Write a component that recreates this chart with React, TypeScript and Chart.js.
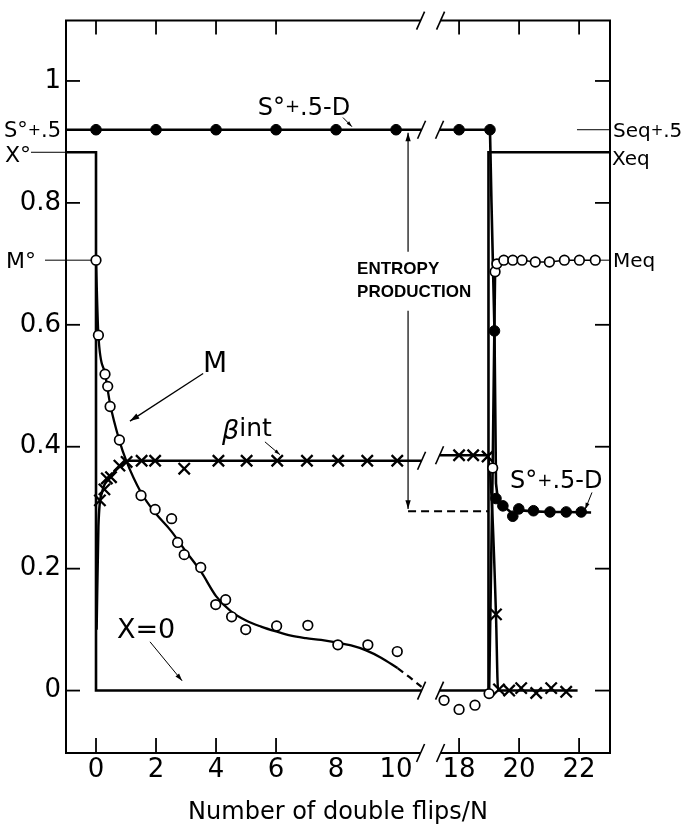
import React, { useEffect, useRef } from "react";
import { Chart, registerables } from "chart.js";

Chart.register(...registerables);

// ---- broken x axis: values right of the break are shifted left ----
const BREAK_SHIFT = 5.9;
const BREAK_FROM = 10.85; // last real x drawn before the break
const BREAK_TO = 17.35; // first real x drawn after the break
const cx = (v: number) => (v > 14 ? v - BREAK_SHIFT : v);
const GAP_X = 11.15; // continuous position used for null gap points

const X_MIN = -1;
const X_MAX = 23.03;
const Y_MIN = -0.1024;
const Y_MAX = 1.099;

const X_TICKS = [0, 2, 4, 6, 8, 10, 18, 20, 22];
const X_MARK_TICKS = [0, 2, 4, 6, 18, 20, 22];
const Y_TICKS = [0, 0.2, 0.4, 0.6, 0.8, 1];
const Y_TICK_LABELS = ["0", "0.2", "0.4", "0.6", "0.8", "1"];

// ---- M (open circles) ----
const M_PTS_X = [0, 0.08, 0.3, 0.39, 0.47, 0.78, 1.5, 1.97, 2.52, 2.72, 2.94, 3.49, 3.99, 4.32, 4.52, 4.99, 6.02, 7.06, 8.06, 9.06, 10.04, 17.5, 18.0, 18.53, 19.0, 19.12, 19.2, 19.26, 19.49, 19.79, 20.1, 20.54, 21.01, 21.51, 22.01, 22.54];
const M_PTS_Y = [0.706, 0.583, 0.519, 0.499, 0.466, 0.411, 0.32, 0.297, 0.282, 0.243, 0.223, 0.202, 0.141, 0.149, 0.121, 0.1, 0.106, 0.107, 0.075, 0.075, 0.064, -0.016, -0.031, -0.024, -0.005, 0.365, 0.687, 0.7, 0.706, 0.706, 0.706, 0.703, 0.703, 0.706, 0.706, 0.706];
// smooth fitted M curve
const M_FIT_X = [0, 0.08, 0.3, 0.47, 0.78, 1.0, 1.5, 2.0, 2.5, 3.0, 3.5, 4.0, 4.5, 5.0, 5.5, 6.0, 6.5, 7.0, 7.5, 8.0, 8.5, 9.0, 9.5, 10.05];
const M_FIT_Y = [0.706, 0.583, 0.52, 0.47, 0.41, 0.378, 0.325, 0.29, 0.262, 0.228, 0.195, 0.155, 0.13, 0.115, 0.105, 0.097, 0.09, 0.086, 0.083, 0.079, 0.074, 0.066, 0.054, 0.037];
const M_DASH_X = [10.05, 10.45, 10.85];
const M_DASH_Y = [0.037, 0.022, 0.006];

// ---- beta_int (crosses) ----
const BETA_MARK_X = [0.13, 0.28, 0.36, 0.5, 0.78, 1.02, 1.52, 1.97, 2.94, 4.08, 5.02, 6.04, 7.03, 8.07, 9.04, 10.04, 18.0, 18.47, 18.95, 19.23, 19.33, 19.67, 20.07, 20.57, 21.07, 21.57];
const BETA_MARK_Y = [0.312, 0.33, 0.348, 0.35, 0.369, 0.375, 0.377, 0.377, 0.364, 0.377, 0.377, 0.377, 0.377, 0.377, 0.377, 0.377, 0.386, 0.386, 0.384, 0.125, 0.002, 0.0, 0.004, -0.004, 0.004, -0.002];
const BETA_LINE_X = [0.02, 0.08, 0.2, 0.5, 0.8, 1.1, 10.85, null, 17.35, 18.95, 19.1, 19.23, 19.3, 21.95];
const BETA_LINE_Y = [0.1, 0.27, 0.325, 0.352, 0.368, 0.377, 0.377, null, 0.386, 0.386, 0.3, 0.125, 0.0, 0.0];

// ---- S°+.5-D (filled circles) ----
const SD_MARK_X = [0, 2, 4, 6, 8, 10, 18, 19.03, 19.18, 19.23, 19.46, 19.79, 19.99, 20.48, 21.03, 21.57, 22.07];
const SD_MARK_Y = [0.92, 0.92, 0.92, 0.92, 0.92, 0.92, 0.92, 0.92, 0.59, 0.315, 0.303, 0.286, 0.298, 0.295, 0.293, 0.293, 0.293];
const SD_LINE_X = [-1, 10.85, null, 17.35, 19.03, 19.08, 19.18, 19.23, 19.3, 19.46, 19.79, 19.99, 20.48, 21.03, 21.57, 22.4];
const SD_LINE_Y = [0.92, 0.92, null, 0.92, 0.92, 0.8, 0.59, 0.34, 0.31, 0.303, 0.29, 0.296, 0.294, 0.293, 0.293, 0.292];

// ---- X step (X°, X=0, Xeq) ----
const X_LINE_X = [-1, 0, 0, 10.85, null, 17.35, 18.98, 18.98, 23.2];
const X_LINE_Y = [0.883, 0.883, 0, 0, null, 0, 0, 0.883, 0.883];

// ---- entropy production level ----
const ENTROPY_X = [10.4, 19.0];
const ENTROPY_Y = [0.294, 0.294];

const FONT = '"DejaVu Sans", sans-serif';

const pts = (xs: (number | null)[], ys: (number | null)[]) =>
  xs.map((x, i) => ({ x: x === null ? GAP_X : cx(x), y: ys[i] }));

function arrow(ctx: CanvasRenderingContext2D, x1: number, y1: number, x2: number, y2: number, head = 9, width = 1.2) {
  ctx.save();
  ctx.lineWidth = width;
  ctx.beginPath();
  ctx.moveTo(x1, y1);
  ctx.lineTo(x2, y2);
  ctx.stroke();
  const ang = Math.atan2(y2 - y1, x2 - x1);
  ctx.beginPath();
  ctx.moveTo(x2, y2);
  ctx.lineTo(x2 - head * Math.cos(ang - 0.3), y2 - head * Math.sin(ang - 0.3));
  ctx.lineTo(x2 - head * Math.cos(ang + 0.3), y2 - head * Math.sin(ang + 0.3));
  ctx.closePath();
  ctx.fill();
  ctx.restore();
}

function rich(ctx: CanvasRenderingContext2D, parts: [string, number][], x: number, yMid: number, size: number, align: "left" | "right" | "center") {
  const widths = parts.map(([t, s]) => {
    ctx.font = `${size * s}px ${FONT}`;
    return ctx.measureText(t).width;
  });
  const total = widths.reduce((a, b) => a + b, 0);
  let cur = align === "left" ? x : align === "right" ? x - total : x - total / 2;
  const base = yMid + size * 0.365;
  ctx.textAlign = "left";
  ctx.textBaseline = "alphabetic";
  parts.forEach(([t, s], i) => {
    ctx.font = `${size * s}px ${FONT}`;
    ctx.fillText(t, cur, s < 1 ? base - size * 0.1 : base);
    cur += widths[i];
  });
}

function line(ctx: CanvasRenderingContext2D, x1: number, y1: number, x2: number, y2: number, w = 1) {
  ctx.lineWidth = w;
  ctx.beginPath();
  ctx.moveTo(x1, y1);
  ctx.lineTo(x2, y2);
  ctx.stroke();
}

function slash(ctx: CanvasRenderingContext2D, x: number, y: number, w = 1.6) {
  line(ctx, x - 4, y + 9, x + 4, y - 9, w);
}

const decor = {
  id: "decor",
  afterDatasetsDraw(chart: any) {
    const { ctx, chartArea: a, scales } = chart;
    const xs = scales.x;
    const ys = scales.y;
    const px = (v: number) => xs.getPixelForValue(cx(v));
    const py = (v: number) => ys.getPixelForValue(v);
    ctx.save();
    ctx.strokeStyle = "#000";
    ctx.fillStyle = "#000";
    ctx.lineCap = "butt";

    const bl = px(BREAK_FROM) - 1;
    const br = px(BREAK_TO) + 1;

    // frame with breaks
    line(ctx, a.left, a.top, a.left, a.bottom, 2);
    line(ctx, a.right, a.top, a.right, a.bottom, 2);
    line(ctx, a.left - 1, a.top, bl, a.top, 2);
    line(ctx, br, a.top, a.right + 1, a.top, 2);
    line(ctx, a.left - 1, a.bottom, bl, a.bottom, 2);
    line(ctx, br, a.bottom, a.right + 1, a.bottom, 2);
    [a.top, a.bottom].forEach((y: number) => {
      slash(ctx, bl, y);
      slash(ctx, br, y);
    });

    // breaks on data lines
    slash(ctx, px(BREAK_FROM), py(SD_LINE_Y[0] as number));
    slash(ctx, px(BREAK_TO), py(SD_LINE_Y[0] as number));
    slash(ctx, px(BREAK_FROM), py(0.377));
    slash(ctx, px(BREAK_TO), py(0.386));
    slash(ctx, px(BREAK_FROM), py(0));
    slash(ctx, px(BREAK_TO), py(0));

    // inner tick marks
    X_MARK_TICKS.forEach((v) => {
      const x = px(v);
      line(ctx, x, a.top, x, a.top + 14, 1.8);
      line(ctx, x, a.bottom, x, a.bottom - 15, 1.8);
    });
    Y_TICKS.forEach((v) => {
      const y = py(v);
      line(ctx, a.left, y, a.left + 14, y, 1.8);
      line(ctx, a.right - 15, y, a.right, y, 1.8);
    });

    const s0 = SD_MARK_Y[0];
    const x0 = X_LINE_Y[0] as number;
    const m0 = M_PTS_Y[0];
    const meq = M_PTS_Y[M_PTS_Y.length - 1];
    const xeq = X_LINE_Y[X_LINE_Y.length - 1] as number;

    // left side labels
    rich(ctx, [["S°", 1], ["+", 0.75], [".5", 1]], 61, py(s0), 21, "right");
    rich(ctx, [["X°", 1]], 5, py(x0) + 2, 22, "left");
    line(ctx, 31, py(x0), a.left, py(x0), 1);
    rich(ctx, [["M°", 1]], 6, py(m0), 22, "left");
    line(ctx, 45, py(m0), px(0) - 4, py(m0), 1);

    // right side labels
    line(ctx, px(21.93), py(s0), a.right, py(s0), 1);
    rich(ctx, [["Seq", 1], ["+", 0.75], [".5", 1]], 613, py(s0), 20, "left");
    rich(ctx, [["Xeq", 1]], 612, py(xeq) + 5, 20, "left");
    line(ctx, px(22.54) + 4, py(meq), a.right, py(meq), 1);
    rich(ctx, [["Meq", 1]], 613, py(meq), 20, "left");

    // curve labels
    rich(ctx, [["S°", 1], ["+", 0.75], [".5-D", 1]], px(6.93), py(0.959), 24, "center");
    arrow(ctx, px(8.23), py(0.94), px(8.53), py(0.925), 6, 1);
    rich(ctx, [["S°", 1], ["+", 0.75], [".5-D", 1]], px(19.7), py(0.346), 24, "left");
    arrow(ctx, px(22.43), py(0.325), px(22.2), py(0.297), 7, 1);

    rich(ctx, [["M", 1]], px(3.97), py(0.54), 28, "center");
    arrow(ctx, px(3.57), py(0.52), px(1.13), py(0.442), 10, 1.3);

    ctx.textBaseline = "middle";
    ctx.textAlign = "left";
    ctx.font = `italic 27px ${FONT}`;
    const bx = px(4.2);
    ctx.fillText("β", bx, py(0.424));
    const bw = ctx.measureText("β").width;
    ctx.font = `25px ${FONT}`;
    ctx.fillText("int", bx + bw, py(0.428));
    arrow(ctx, px(5.63), py(0.408), px(6.13), py(0.387), 6, 1);

    rich(ctx, [["X=0", 1]], px(1.67), py(0.102), 27, "center");
    arrow(ctx, px(1.8), py(0.08), px(2.87), py(0.016), 8, 1);

    // entropy production
    ctx.font = 'bold 17px "Liberation Sans", Arial, sans-serif';
    ctx.textAlign = "left";
    ctx.textBaseline = "middle";
    ctx.fillText("ENTROPY", px(8.7), py(0.691));
    ctx.fillText("PRODUCTION", px(8.7), py(0.654));
    const ex = px(ENTROPY_X[0]);
    arrow(ctx, ex, py(0.72), ex, py(0.915), 9, 1.2);
    arrow(ctx, ex, py(0.623), ex, py(0.298), 9, 1.2);

    ctx.restore();
  },
};

export default function App() {
  const ref = useRef<HTMLCanvasElement | null>(null);

  useEffect(() => {
    if (!ref.current) return;
    const lineDs = (data: any[], extra: any = {}) => ({
      type: "line",
      data,
      borderColor: "#000",
      borderWidth: 2.5,
      pointRadius: 0,
      fill: false,
      tension: 0,
      spanGaps: false,
      ...extra,
    });

    const jumpIdx = M_PTS_X.map((x, i) => i).filter((i) => M_PTS_X[i] >= 19.0 && M_PTS_X[i] <= 19.2);
    const meqIdx = M_PTS_X.map((x, i) => i).filter((i) => M_PTS_X[i] >= 19.2);

    const chart = new Chart(ref.current, {
      type: "line",
      data: {
        datasets: [
          {
            label: "M",
            data: pts(M_PTS_X, M_PTS_Y),
            showLine: false,
            pointStyle: "circle",
            pointRadius: 4.8,
            pointBorderWidth: 1.7,
            pointBackgroundColor: "#fff",
            pointBorderColor: "#000",
          },
          {
            label: "S°+.5-D",
            data: pts(SD_MARK_X, SD_MARK_Y),
            showLine: false,
            pointStyle: "circle",
            pointRadius: 5.3,
            pointBorderWidth: 1,
            pointBackgroundColor: "#000",
            pointBorderColor: "#000",
          },
          {
            label: "βint",
            data: pts(BETA_MARK_X, BETA_MARK_Y),
            showLine: false,
            pointStyle: "crossRot",
            pointRadius: 8,
            pointBorderWidth: 2.3,
            pointBorderColor: "#000",
          },
          lineDs(pts(M_FIT_X, M_FIT_Y), { cubicInterpolationMode: "monotone", borderWidth: 2.3 }),
          lineDs(pts(M_DASH_X, M_DASH_Y), { borderDash: [7, 5], borderWidth: 2.2 }),
          lineDs(pts(jumpIdx.map((i) => M_PTS_X[i]), jumpIdx.map((i) => M_PTS_Y[i])), { borderWidth: 2.6 }),
          lineDs(pts(meqIdx.map((i) => M_PTS_X[i]), meqIdx.map((i) => M_PTS_Y[i])), { borderWidth: 1.5 }),
          lineDs(pts(BETA_LINE_X, BETA_LINE_Y), { cubicInterpolationMode: "monotone", borderWidth: 2.5 }),
          lineDs(pts(SD_LINE_X, SD_LINE_Y), { borderWidth: 2.6 }),
          lineDs(pts(X_LINE_X, X_LINE_Y), { borderWidth: 2.6 }),
          lineDs(pts(ENTROPY_X, ENTROPY_Y), { borderDash: [8, 5], borderWidth: 2 }),
        ] as any,
      },
      options: {
        animation: false,
        responsive: false,
        layout: { padding: { top: 14, right: 74, left: 0, bottom: 0 } },
        plugins: { legend: { display: false }, tooltip: { enabled: false } },
        scales: {
          x: {
            type: "linear",
            min: cx(X_MIN),
            max: cx(X_MAX),
            afterBuildTicks: (s: any) => {
              s.ticks = X_TICKS.map((v) => ({ value: cx(v) }));
            },
            afterFit: (s: any) => {
              s.height = 76;
            },
            grid: { display: false, drawTicks: false },
            border: { display: false },
            ticks: {
              autoSkip: false,
              maxRotation: 0,
              padding: 2,
              color: "#000",
              font: { family: FONT, size: 26 },
              callback: (_v: any, i: number) => String(X_TICKS[i]),
            },
            title: {
              display: true,
              text: "Number of double flips/N",
              color: "#000",
              font: { family: FONT, size: 24 },
              padding: { top: 0, bottom: 2 },
            },
          },
          y: {
            type: "linear",
            min: Y_MIN,
            max: Y_MAX,
            afterBuildTicks: (s: any) => {
              s.ticks = Y_TICKS.map((v) => ({ value: v }));
            },
            afterFit: (s: any) => {
              s.width = 66;
            },
            grid: { display: false, drawTicks: false },
            border: { display: false },
            ticks: {
              padding: 5,
              color: "#000",
              font: { family: FONT, size: 26 },
              callback: (_v: any, i: number) => Y_TICK_LABELS[i],
            },
          },
        },
      } as any,
      plugins: [decor],
    });
    return () => chart.destroy();
  }, []);

  return (
    <div style={{ position: "fixed", left: 0, top: 0, width: 684, height: 829, background: "#fff" }}>
      <canvas ref={ref} width={684} height={829} style={{ display: "block" }} />
    </div>
  );
}
